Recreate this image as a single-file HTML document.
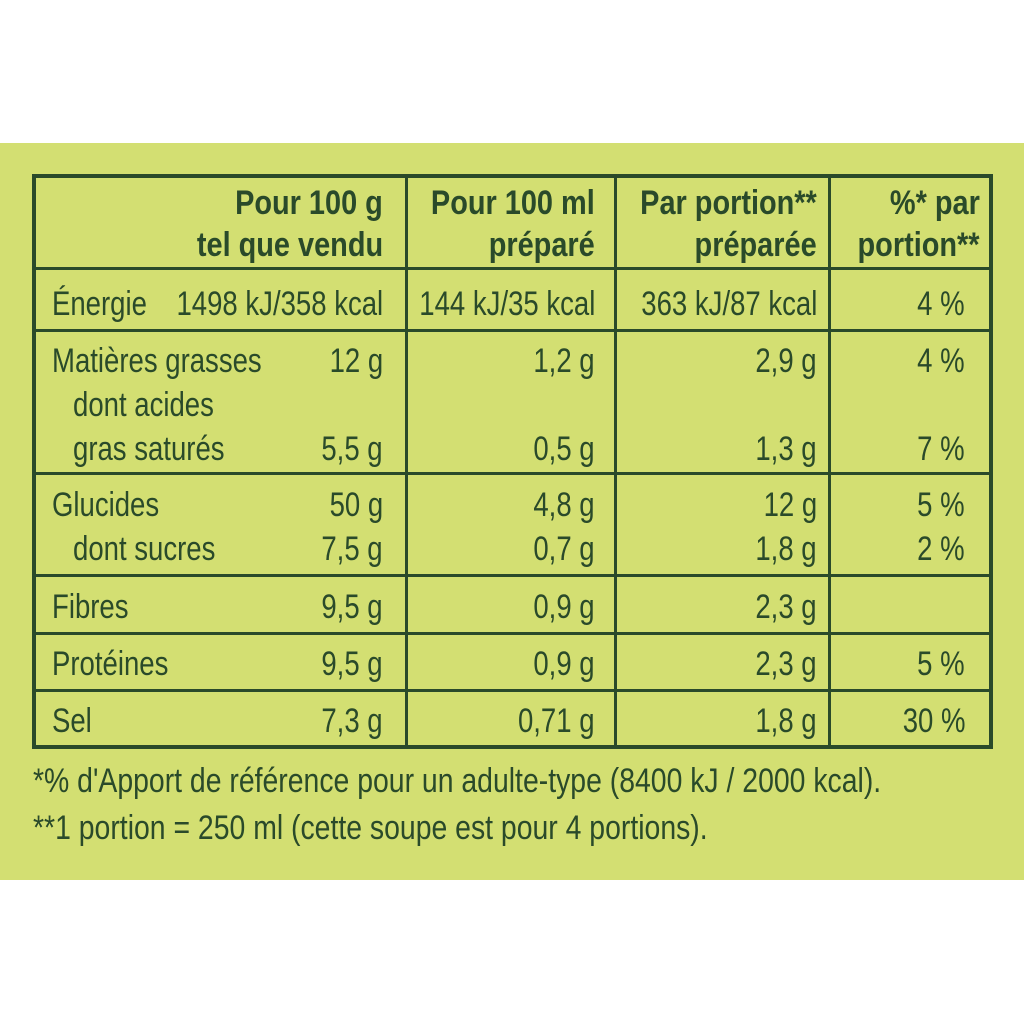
<!DOCTYPE html>
<html><head><meta charset="utf-8"><style>
body{margin:0;width:1024px;height:1024px;background:#fff;position:relative;overflow:hidden;font-family:"Liberation Sans Narrow","Liberation Sans",sans-serif;color:#2a4a2a}
.panel{position:absolute;left:0;top:143px;width:1024px;height:737px;background:#d3df72}
.t{position:absolute;font-size:34px;line-height:34px;white-space:nowrap;transform:scaleX(0.81)}
.r{transform-origin:right center}
.l{transform-origin:left center}
.b{font-weight:bold;transform:scaleX(0.85)}
.f{transform:scaleX(0.835)}
.h{position:absolute;background:#2a4a2a}
</style></head><body>
<div class="panel"></div>
<div class="h" style="left:32px;top:174px;width:961px;height:4px"></div>
<div class="h" style="left:32px;top:745px;width:961px;height:4px"></div>
<div class="h" style="left:32px;top:174px;width:4px;height:575px"></div>
<div class="h" style="left:989px;top:174px;width:4px;height:575px"></div>
<div class="h" style="left:405px;top:174px;width:3px;height:575px"></div>
<div class="h" style="left:614px;top:174px;width:3px;height:575px"></div>
<div class="h" style="left:828px;top:174px;width:3px;height:575px"></div>
<div class="h" style="left:32px;top:267px;width:961px;height:3px"></div>
<div class="h" style="left:32px;top:329px;width:961px;height:3px"></div>
<div class="h" style="left:32px;top:472px;width:961px;height:3px"></div>
<div class="h" style="left:32px;top:574px;width:961px;height:3px"></div>
<div class="h" style="left:32px;top:632px;width:961px;height:3px"></div>
<div class="h" style="left:32px;top:689px;width:961px;height:3px"></div>

<div class="t b r" style="right:641px;top:186px">Pour 100 g</div>
<div class="t b r" style="right:641px;top:228px">tel que vendu</div>
<div class="t b r" style="right:429px;top:186px">Pour 100 ml</div>
<div class="t b r" style="right:429px;top:228px">préparé</div>
<div class="t b r" style="right:207px;top:186px">Par portion**</div>
<div class="t b r" style="right:207px;top:228px">préparée</div>
<div class="t b r" style="right:44px;top:186px">%* par</div>
<div class="t b r" style="right:44px;top:228px">portion**</div>

<div class="t l" style="left:52px;top:287px">Énergie</div>
<div class="t r" style="right:641px;top:287px">1498 kJ/358 kcal</div>
<div class="t r" style="right:429px;top:287px">144 kJ/35 kcal</div>
<div class="t r" style="right:207px;top:287px">363 kJ/87 kcal</div>
<div class="t r" style="right:59px;top:287px">4 %</div>

<div class="t l" style="left:52px;top:344px">Matières grasses</div>
<div class="t r" style="right:641px;top:344px">12 g</div>
<div class="t r" style="right:429px;top:344px">1,2 g</div>
<div class="t r" style="right:207px;top:344px">2,9 g</div>
<div class="t r" style="right:59px;top:344px">4 %</div>
<div class="t l" style="left:73px;top:388px">dont acides</div>
<div class="t l" style="left:73px;top:432px">gras saturés</div>
<div class="t r" style="right:641px;top:432px">5,5 g</div>
<div class="t r" style="right:429px;top:432px">0,5 g</div>
<div class="t r" style="right:207px;top:432px">1,3 g</div>
<div class="t r" style="right:59px;top:432px">7 %</div>

<div class="t l" style="left:52px;top:488px">Glucides</div>
<div class="t r" style="right:641px;top:488px">50 g</div>
<div class="t r" style="right:429px;top:488px">4,8 g</div>
<div class="t r" style="right:207px;top:488px">12 g</div>
<div class="t r" style="right:59px;top:488px">5 %</div>
<div class="t l" style="left:73px;top:532px">dont sucres</div>
<div class="t r" style="right:641px;top:532px">7,5 g</div>
<div class="t r" style="right:429px;top:532px">0,7 g</div>
<div class="t r" style="right:207px;top:532px">1,8 g</div>
<div class="t r" style="right:59px;top:532px">2 %</div>

<div class="t l" style="left:52px;top:590px">Fibres</div>
<div class="t r" style="right:641px;top:590px">9,5 g</div>
<div class="t r" style="right:429px;top:590px">0,9 g</div>
<div class="t r" style="right:207px;top:590px">2,3 g</div>

<div class="t l" style="left:52px;top:647px">Protéines</div>
<div class="t r" style="right:641px;top:647px">9,5 g</div>
<div class="t r" style="right:429px;top:647px">0,9 g</div>
<div class="t r" style="right:207px;top:647px">2,3 g</div>
<div class="t r" style="right:59px;top:647px">5 %</div>

<div class="t l" style="left:52px;top:704px">Sel</div>
<div class="t r" style="right:641px;top:704px">7,3 g</div>
<div class="t r" style="right:429px;top:704px">0,71 g</div>
<div class="t r" style="right:207px;top:704px">1,8 g</div>
<div class="t r" style="right:59px;top:704px">30 %</div>

<div class="t l f" style="left:33px;top:764px">*% d'Apport de référence pour un adulte-type (8400 kJ / 2000 kcal).</div>
<div class="t l f" style="left:33px;top:811px">**1 portion = 250 ml (cette soupe est pour 4 portions).</div>
</body></html>
